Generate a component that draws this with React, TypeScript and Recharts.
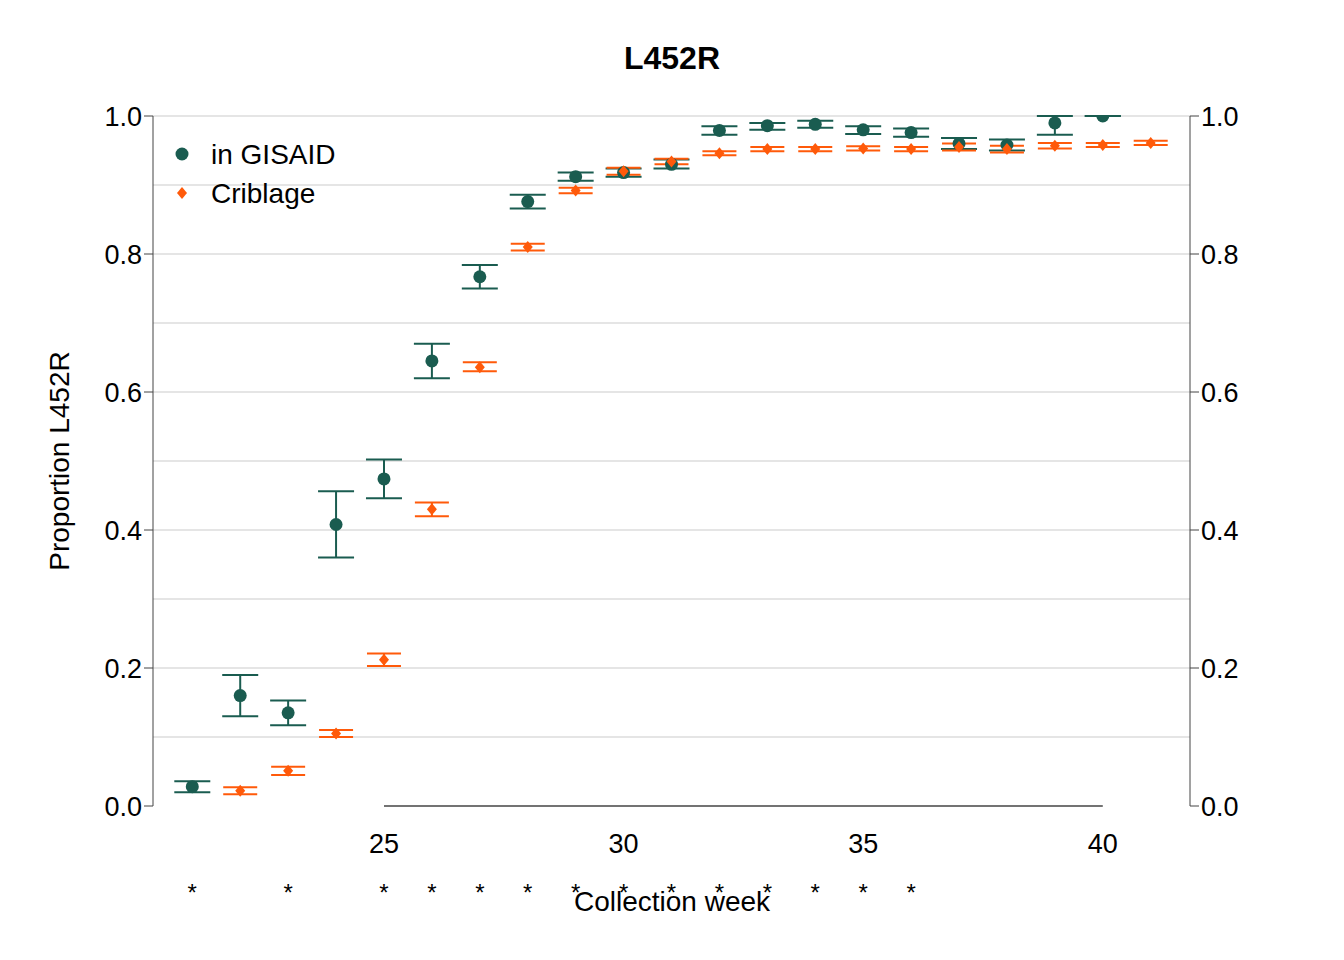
import React from "react";
import { ComposedChart, Scatter, XAxis, YAxis, ErrorBar, ReferenceLine } from "recharts";

const gisWeeks = [21, 22, 23, 24, 25, 26, 27, 28, 29, 30, 31, 32, 33, 34, 35, 36, 37, 38, 39, 40];
const gisP = [0.028, 0.16, 0.135, 0.408, 0.474, 0.645, 0.767, 0.876, 0.912, 0.918, 0.93, 0.979, 0.986, 0.988, 0.98, 0.976, 0.96, 0.958, 0.99, 1.0];
const gisLo = [0.02, 0.13, 0.117, 0.36, 0.446, 0.62, 0.75, 0.866, 0.906, 0.912, 0.924, 0.973, 0.98, 0.983, 0.974, 0.97, 0.952, 0.95, 0.973, 1.0];
const gisHi = [0.036, 0.19, 0.153, 0.456, 0.502, 0.67, 0.784, 0.886, 0.918, 0.924, 0.937, 0.985, 0.99, 0.993, 0.985, 0.982, 0.968, 0.966, 1.0, 1.0];

const cribWeeks = [22, 23, 24, 25, 26, 27, 28, 29, 30, 31, 32, 33, 34, 35, 36, 37, 38, 39, 40, 41];
const cribP = [0.022, 0.051, 0.105, 0.212, 0.43, 0.636, 0.81, 0.892, 0.92, 0.934, 0.946, 0.952, 0.952, 0.953, 0.952, 0.955, 0.952, 0.957, 0.958, 0.961];
const cribLo = [0.017, 0.045, 0.1, 0.203, 0.42, 0.63, 0.805, 0.888, 0.915, 0.93, 0.943, 0.949, 0.949, 0.95, 0.949, 0.95, 0.947, 0.953, 0.955, 0.958];
const cribHi = [0.027, 0.057, 0.11, 0.221, 0.44, 0.643, 0.815, 0.896, 0.925, 0.938, 0.949, 0.955, 0.955, 0.956, 0.955, 0.96, 0.957, 0.961, 0.961, 0.964];

const starWeeks = [21, 23, 25, 26, 27, 28, 29, 30, 31, 32, 33, 34, 35, 36];
const xTicks = [25, 30, 35, 40];
const yTicks = [0, 0.2, 0.4, 0.6, 0.8, 1];
const gridLines = [0.1, 0.2, 0.3, 0.4, 0.5, 0.6, 0.7, 0.8, 0.9, 1.0];

const GREEN = "#1a5c50";
const ORANGE = "#ff5a0a";
const FONT = "Liberation Sans, Arial, sans-serif";

const gisData = gisWeeks.map((w, i) => ({ x: w, y: gisP[i], err: [gisP[i] - gisLo[i], gisHi[i] - gisP[i]] }));
const cribData = cribWeeks.map((w, i) => ({ x: w, y: cribP[i], err: [cribP[i] - cribLo[i], cribHi[i] - cribP[i]] }));
const starData = starWeeks.map((w) => ({ x: w, y: 0.5 }));

const tickStyle = { fontSize: 27, fill: "#000", fontFamily: FONT };

const Diamond = (props: any) => {
  const { cx, cy } = props;
  return <path d={`M${cx},${cy - 6}L${cx + 5},${cy}L${cx},${cy + 6}L${cx - 5},${cy}Z`} fill={ORANGE} />;
};
const Dot = (props: any) => <circle cx={props.cx} cy={props.cy} r={6.5} fill={GREEN} />;
const Empty = () => <g />;

export default function App() {
  return (
    <div style={{ position: "relative", width: 1344, height: 960, margin: -8, fontFamily: FONT, background: "#fff" }}>
      <ComposedChart width={1344} height={960} margin={{ top: 116, right: 94, bottom: 64, left: 93 }}>
        <XAxis
          xAxisId="m"
          type="number"
          dataKey="x"
          domain={[20.18, 41.82]}
          ticks={xTicks}
          axisLine={false}
          tickSize={0}
          tickMargin={28}
          tick={tickStyle}
          height={50}
          allowDataOverflow
        />
        <XAxis
          xAxisId="s"
          type="number"
          dataKey="x"
          domain={[20.18, 41.82]}
          ticks={starWeeks}
          tickFormatter={() => "*"}
          axisLine={false}
          tickLine={false}
          tickMargin={22}
          tick={{ fontSize: 24, fill: "#000", fontFamily: FONT }}
          height={40}
          allowDataOverflow
        />
        <YAxis
          yAxisId="l"
          type="number"
          dataKey="y"
          domain={[0, 1]}
          ticks={yTicks}
          tickFormatter={(v: number) => v.toFixed(1)}
          tick={tickStyle}
          tickSize={9}
          stroke="#444"
          width={60}
          allowDataOverflow
        />
        <YAxis
          yAxisId="r"
          orientation="right"
          type="number"
          dataKey="y"
          domain={[0, 1]}
          ticks={yTicks}
          tickFormatter={(v: number) => v.toFixed(1)}
          tick={tickStyle}
          tickSize={9}
          stroke="#444"
          width={60}
          allowDataOverflow
        />
        {gridLines.map((g) => (
          <ReferenceLine key={g} xAxisId="m" yAxisId="l" y={g} stroke="#dcdcdc" strokeWidth={1.5} />
        ))}
        <ReferenceLine
          xAxisId="m"
          yAxisId="l"
          segment={[{ x: 25, y: 0 }, { x: 40, y: 0 }]}
          stroke="#444"
          strokeWidth={1.5}
        />
        <Scatter xAxisId="s" yAxisId="r" data={starData} dataKey="y" shape={<Empty />} isAnimationActive={false} />
        <Scatter xAxisId="m" yAxisId="l" data={gisData} dataKey="y" shape={<Dot />} isAnimationActive={false}>
          <ErrorBar dataKey="err" direction="y" width={18} stroke={GREEN} strokeWidth={2} />
        </Scatter>
        <Scatter xAxisId="m" yAxisId="l" data={cribData} dataKey="y" shape={<Diamond />} isAnimationActive={false}>
          <ErrorBar dataKey="err" direction="y" width={17} stroke={ORANGE} strokeWidth={2} />
        </Scatter>
      </ComposedChart>
      <div style={{ position: "absolute", top: 40, left: 0, width: 1344, textAlign: "center", fontSize: 32, fontWeight: "bold" }}>
        L452R
      </div>
      <div style={{ position: "absolute", top: 886, left: 0, width: 1344, textAlign: "center", fontSize: 28 }}>
        Collection week
      </div>
      <div
        style={{
          position: "absolute",
          left: 60,
          top: 461,
          fontSize: 28,
          transform: "translate(-50%, -50%) rotate(-90deg)",
          whiteSpace: "nowrap",
        }}
      >
        Proportion L452R
      </div>
      <svg style={{ position: "absolute", left: 0, top: 0 }} width={400} height={220}>
        <circle cx={182} cy={154} r={6.5} fill={GREEN} />
        <path d="M182,187L187,193L182,199L177,193Z" fill={ORANGE} />
        <text x={211} y={164} fontSize={28} fontFamily={FONT}>in GISAID</text>
        <text x={211} y={203} fontSize={28} fontFamily={FONT}>Criblage</text>
      </svg>
    </div>
  );
}
